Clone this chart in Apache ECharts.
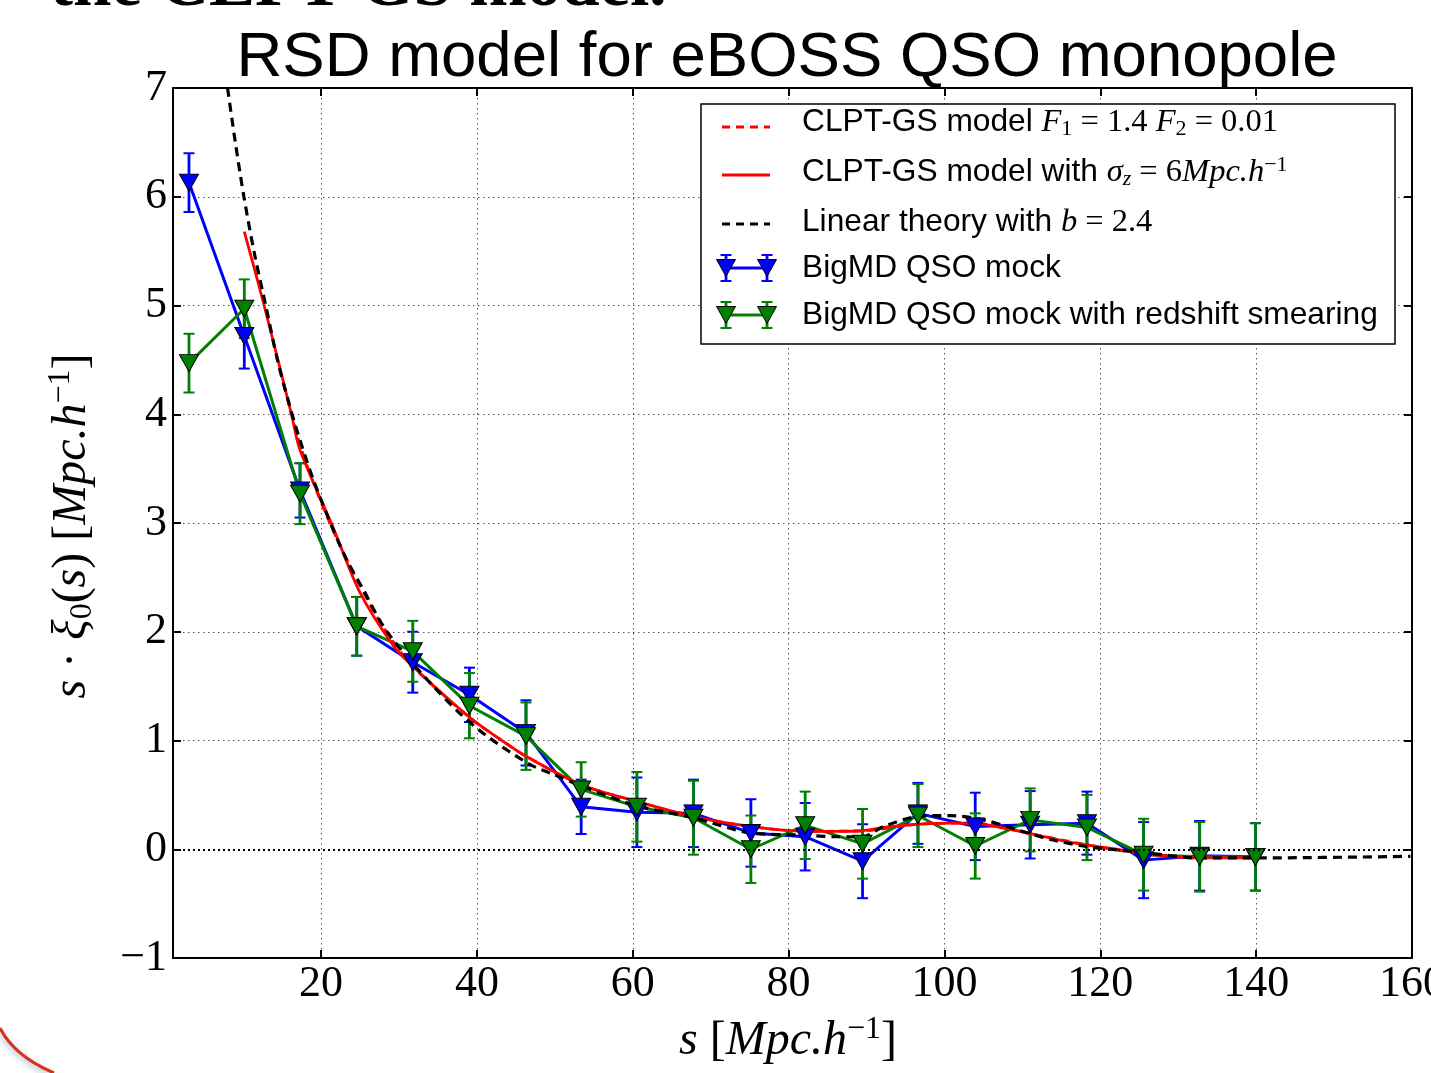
<!DOCTYPE html>
<html><head><meta charset="utf-8">
<script src="https://cdn.jsdelivr.net/npm/echarts@6/dist/echarts.min.js"></script>
<style>html,body{margin:0;padding:0;background:#fff;overflow:hidden;width:1431px;height:1073px}#c{width:1431px;height:1073px}</style>
</head><body><div id="c"></div>
<script>
// ---- data ----
const sBins = [3.05, 10.15, 17.3, 24.58, 31.77, 39.04, 46.3, 53.38, 60.53, 67.79, 75.16, 82.13, 89.49, 96.6, 103.95, 111.0, 118.29, 125.56, 132.75, 139.9];
const blueMock = [6.13, 4.72, 3.3, 2.05, 1.72, 1.42, 1.07, 0.39, 0.34, 0.33, 0.15, 0.115, -0.11, 0.33, 0.21, 0.225, 0.24, -0.1, -0.06, -0.07];
const blueErr  = [0.27, 0.30, 0.25, 0.27, 0.28, 0.25, 0.30, 0.25, 0.32, 0.31, 0.31, 0.31, 0.34, 0.28, 0.31, 0.31, 0.29, 0.35, 0.32, 0.31];
const greenMock = [4.47, 4.97, 3.27, 2.05, 1.82, 1.32, 1.04, 0.55, 0.39, 0.29, 0.0, 0.22, 0.05, 0.31, 0.03, 0.27, 0.2, -0.05, -0.07, -0.07];
const greenErr  = [0.27, 0.27, 0.28, 0.27, 0.28, 0.30, 0.31, 0.25, 0.32, 0.34, 0.31, 0.31, 0.32, 0.29, 0.30, 0.29, 0.30, 0.33, 0.32, 0.31];

const linS = [8.0, 9.0, 10.1, 11.5, 12.9, 14.4, 16.0, 17.3, 19.0, 21.2, 23.3, 25.4, 28.0, 31.0, 34.4, 37.8, 41.3, 46.8, 49.8, 53.5, 60.5, 67.8, 75.1, 82.1, 86.0, 89.5, 92.2, 96.5, 100.7, 105.0, 109.3, 113.6, 117.8, 121.3, 125.5, 132.8, 139.9, 159.8];
const linY = [7.0, 6.5, 6.0, 5.46, 5.0, 4.5, 4.07, 3.76, 3.40, 3.0, 2.66, 2.39, 2.05, 1.77, 1.50, 1.25, 1.04, 0.78, 0.69, 0.58, 0.40, 0.29, 0.15, 0.13, 0.115, 0.115, 0.21, 0.30, 0.31, 0.27, 0.18, 0.09, 0.03, 0.0, -0.03, -0.08, -0.08, -0.065];

const clptSigS = [10.15, 12.7, 16.2, 17.3, 21.6, 25.0, 29.3, 31.8, 39.1, 43.0, 46.3, 53.5, 60.5, 67.8, 75.1, 82.1, 86.0, 89.5, 92.2, 96.6, 100.7, 103.7, 107.2, 111.3, 115.7, 118.3, 122.1, 125.5, 132.8, 139.9];
const clptSigY = [5.68, 5.0, 4.0, 3.67, 2.95, 2.36, 1.87, 1.68, 1.21, 1.01, 0.855, 0.59, 0.44, 0.30, 0.21, 0.165, 0.165, 0.17, 0.20, 0.23, 0.24, 0.24, 0.20, 0.14, 0.07, 0.04, 0.0, -0.04, -0.08, -0.08];

const clptS = [15.2, 17.3, 19.5, 22.0, 24.8, 28.0, 31.8, 39.1, 43.0, 46.3, 53.5, 60.5, 67.8, 75.1, 82.1, 89.5, 96.6, 103.7, 111.3, 118.3, 125.5, 132.8, 139.9];
const clptY = [4.28, 3.72, 3.28, 2.86, 2.45, 2.04, 1.68, 1.21, 1.01, 0.855, 0.59, 0.44, 0.30, 0.21, 0.165, 0.17, 0.23, 0.24, 0.14, 0.04, -0.04, -0.08, -0.08];

const xTicks = [20, 40, 60, 80, 100, 120, 140, 160];

const titleText = 'RSD model for eBOSS QSO monopole';
const legendLabels = [
  '{s|CLPT-GS model }{i|F}{sub|1}{m| = 1.4 }{i|F}{sub|2}{m| = 0.01}',
  '{s|CLPT-GS model with }{i|σ}{subi|z}{m| = 6}{i|Mpc.h}{sup|−1}',
  '{s|Linear theory with }{i|b}{m| = 2.4}',
  '{s|BigMD QSO mock}',
  '{s|BigMD QSO mock with redshift smearing}'
];

// ---- build ----
const BLUE = '#0000ff', GREEN = '#008000', RED = '#ff0000';
function pairs(xs, ys) { return xs.map((x, i) => [x, ys[i]]); }
function errData(xs, ys, es) { return xs.map((x, i) => [x, ys[i] - es[i], ys[i] + es[i]]); }
function errSeries(color, data) {
  return {
    type: 'custom', data: data, silent: true, animation: false,
    encode: { x: 0, y: [1, 2] },
    renderItem: function (params, api) {
      const x = api.value(0);
      const lo = api.coord([x, api.value(1)]);
      const hi = api.coord([x, api.value(2)]);
      const cw = 5.5;
      return { type: 'group', children: [
        { type: 'line', shape: { x1: lo[0], y1: lo[1], x2: hi[0], y2: hi[1] }, style: { stroke: color, lineWidth: 2.8 } },
        { type: 'line', shape: { x1: lo[0] - cw, y1: lo[1], x2: lo[0] + cw, y2: lo[1] }, style: { stroke: color, lineWidth: 2 } },
        { type: 'line', shape: { x1: hi[0] - cw, y1: hi[1], x2: hi[0] + cw, y2: hi[1] }, style: { stroke: color, lineWidth: 2 } }
      ]};
    }
  };
}
function dataLine(color, data, extra) {
  return Object.assign({
    type: 'line', data: data, symbol: 'triangle', symbolRotate: 180, symbolSize: [19, 17],
    showAllSymbol: true, animation: false, silent: true,
    itemStyle: { color: color, borderColor: '#000', borderWidth: 1 },
    lineStyle: { color: color, width: 3 }
  }, extra || {});
}
function modelLine(color, data, width, type) {
  return { type: 'line', data: data, symbol: 'none', smooth: 0.3, animation: false, silent: true,
    lineStyle: { color: color, width: width, type: type } };
}

const serif = 'Liberation Serif';
const sans = 'Liberation Sans';
const richLegend = {
  s: { fontFamily: sans, fontSize: 31.7, color: '#000', lineHeight: 36 },
  i: { fontFamily: serif, fontStyle: 'italic', fontSize: 32.5, color: '#000', lineHeight: 36 },
  m: { fontFamily: serif, fontSize: 32.5, color: '#000', lineHeight: 36 },
  sub: { fontFamily: serif, fontSize: 22, color: '#000', lineHeight: 20, verticalAlign: 'bottom' },
  subi: { fontFamily: serif, fontStyle: 'italic', fontSize: 22, color: '#000', lineHeight: 20, verticalAlign: 'bottom' },
  sup: { fontFamily: serif, fontSize: 22, color: '#000', lineHeight: 20, verticalAlign: 'top' }
};
const richAxis = {
  i: { fontFamily: serif, fontStyle: 'italic', fontSize: 48, color: '#000', lineHeight: 54 },
  m: { fontFamily: serif, fontSize: 48, color: '#000', lineHeight: 54 },
  sub: { fontFamily: serif, fontSize: 32, color: '#000', lineHeight: 29, verticalAlign: 'bottom' },
  sup: { fontFamily: serif, fontSize: 32, color: '#000', lineHeight: 29, verticalAlign: 'top' }
};

const legendRows = [122, 172, 222, 268, 315];
const graphics = [];
graphics.push({ type: 'rect', z: 100, shape: { x: 701, y: 104, width: 694, height: 240 }, style: { fill: '#fff', stroke: '#000', lineWidth: 1.5 } });
graphics.push({ type: 'line', z: 101, shape: { x1: 722, y1: 127, x2: 770, y2: 127 }, style: { stroke: RED, lineWidth: 2.8, lineDash: [8, 6] } });
graphics.push({ type: 'line', z: 101, shape: { x1: 722, y1: 175, x2: 770, y2: 175 }, style: { stroke: RED, lineWidth: 2.8 } });
graphics.push({ type: 'line', z: 101, shape: { x1: 722, y1: 224, x2: 770, y2: 224 }, style: { stroke: '#000', lineWidth: 3, lineDash: [8, 6] } });
function errHandle(y, color) {
  const xs = [726, 767];
  graphics.push({ type: 'line', z: 101, shape: { x1: xs[0], y1: y, x2: xs[1], y2: y }, style: { stroke: color, lineWidth: 3 } });
  xs.forEach(function (x) {
    graphics.push({ type: 'line', z: 101, shape: { x1: x, y1: y - 13, x2: x, y2: y + 13 }, style: { stroke: color, lineWidth: 2.8 } });
    graphics.push({ type: 'line', z: 101, shape: { x1: x - 5.5, y1: y - 13, x2: x + 5.5, y2: y - 13 }, style: { stroke: color, lineWidth: 2 } });
    graphics.push({ type: 'line', z: 101, shape: { x1: x - 5.5, y1: y + 13, x2: x + 5.5, y2: y + 13 }, style: { stroke: color, lineWidth: 2 } });
    graphics.push({ type: 'polygon', z: 102, shape: { points: [[x - 9.5, y - 8.5], [x + 9.5, y - 8.5], [x, y + 8.5]] }, style: { fill: color, stroke: '#000', lineWidth: 1 } });
  });
}
errHandle(268, BLUE);
errHandle(315, GREEN);
legendLabels.forEach(function (t, k) {
  graphics.push({ type: 'text', z: 103, x: 802, y: legendRows[k], style: { text: t, rich: richLegend, align: 'left', verticalAlign: 'middle', fill: '#000' } });
});
graphics.push({ type: 'text', z: 50, x: 787, y: 58, style: { text: titleText, fontFamily: sans, fontSize: 63.5, fill: '#000', align: 'center', verticalAlign: 'middle' } });
graphics.push({ type: 'text', z: 50, x: 50, y: -12.5, style: { text: 'the CLPT-GS model.', fontFamily: serif, fontWeight: 'bold', fontSize: 69, fill: '#000', align: 'left', verticalAlign: 'middle' } });
graphics.push({ type: 'text', z: 50, x: 788, y: 1041, style: { text: '{i|s}{m| [}{i|Mpc.h}{sup|−1}{m|]}', rich: richAxis, align: 'center', verticalAlign: 'middle' } });
graphics.push({ type: 'text', z: 50, x: 72, y: 526, rotation: Math.PI / 2, style: { text: '{i|s}{m| · }{i|ξ}{sub|0}{m|(}{i|s}{m|) [}{i|Mpc.h}{sup|−1}{m|]}', rich: richAxis, align: 'center', verticalAlign: 'middle' } });
graphics.push({ type: 'bezierCurve', z: 50, shape: { x1: 0, y1: 1028, cpx1: 14, cpy1: 1056, x2: 54, y2: 1073 }, style: { stroke: '#d6321c', lineWidth: 3, fill: null, shadowColor: 'rgba(110,150,180,0.7)', shadowBlur: 6, shadowOffsetY: 3 } });

const axisLineStyle = { color: '#000', width: 2 };
const gridLine = { show: true, lineStyle: { color: '#555', width: 1, type: [1.5, 3.5] } };
const minusFmt = function (v) { return v < 0 ? '−' + Math.abs(v) : String(v); };

const option = {
  backgroundColor: '#fff',
  animation: false,
  grid: { left: 173, right: 19, top: 88, bottom: 115, containLabel: false, outerBoundsMode: 'none' },
  xAxis: [
    { type: 'value', min: 1, max: 160, position: 'bottom',
      axisLine: { onZero: false, lineStyle: axisLineStyle },
      axisTick: { inside: true, length: 8, customValues: xTicks, lineStyle: axisLineStyle },
      axisLabel: { customValues: xTicks, color: '#000', fontFamily: serif, fontSize: 44, margin: 4 },
      splitLine: gridLine },
    { type: 'value', min: 1, max: 160, position: 'top',
      axisLine: { onZero: false, lineStyle: axisLineStyle },
      axisTick: { inside: true, length: 8, customValues: xTicks, lineStyle: axisLineStyle },
      axisLabel: { show: false }, splitLine: { show: false } }
  ],
  yAxis: [
    { type: 'value', min: -1, max: 7, interval: 1, position: 'left',
      axisLine: { onZero: false, lineStyle: axisLineStyle },
      axisTick: { inside: true, length: 8, lineStyle: axisLineStyle },
      axisLabel: { formatter: minusFmt, color: '#000', fontFamily: serif, fontSize: 44, margin: 6 },
      splitLine: gridLine },
    { type: 'value', min: -1, max: 7, interval: 1, position: 'right',
      axisLine: { onZero: false, lineStyle: axisLineStyle },
      axisTick: { inside: true, length: 8, lineStyle: axisLineStyle },
      axisLabel: { show: false }, splitLine: { show: false } }
  ],
  series: [
    errSeries(BLUE, errData(sBins, blueMock, blueErr)),
    dataLine(BLUE, pairs(sBins, blueMock), {
      markLine: { silent: true, symbol: ['none', 'none'], label: { show: false }, animation: false,
        lineStyle: { color: '#000', width: 1.8, type: [2, 3] }, data: [{ yAxis: 0 }] }
    }),
    errSeries(GREEN, errData(sBins, greenMock, greenErr)),
    dataLine(GREEN, pairs(sBins, greenMock)),
    modelLine(RED, pairs(clptSigS, clptSigY), 2.8, 'solid'),
    modelLine(RED, pairs(clptS, clptY), 2.8, [8, 6]),
    modelLine('#000', pairs(linS, linY), 3.2, [9, 6])
  ],
  graphic: graphics
};
const chart = echarts.init(document.getElementById('c'));
chart.setOption(option);
</script></body></html>
